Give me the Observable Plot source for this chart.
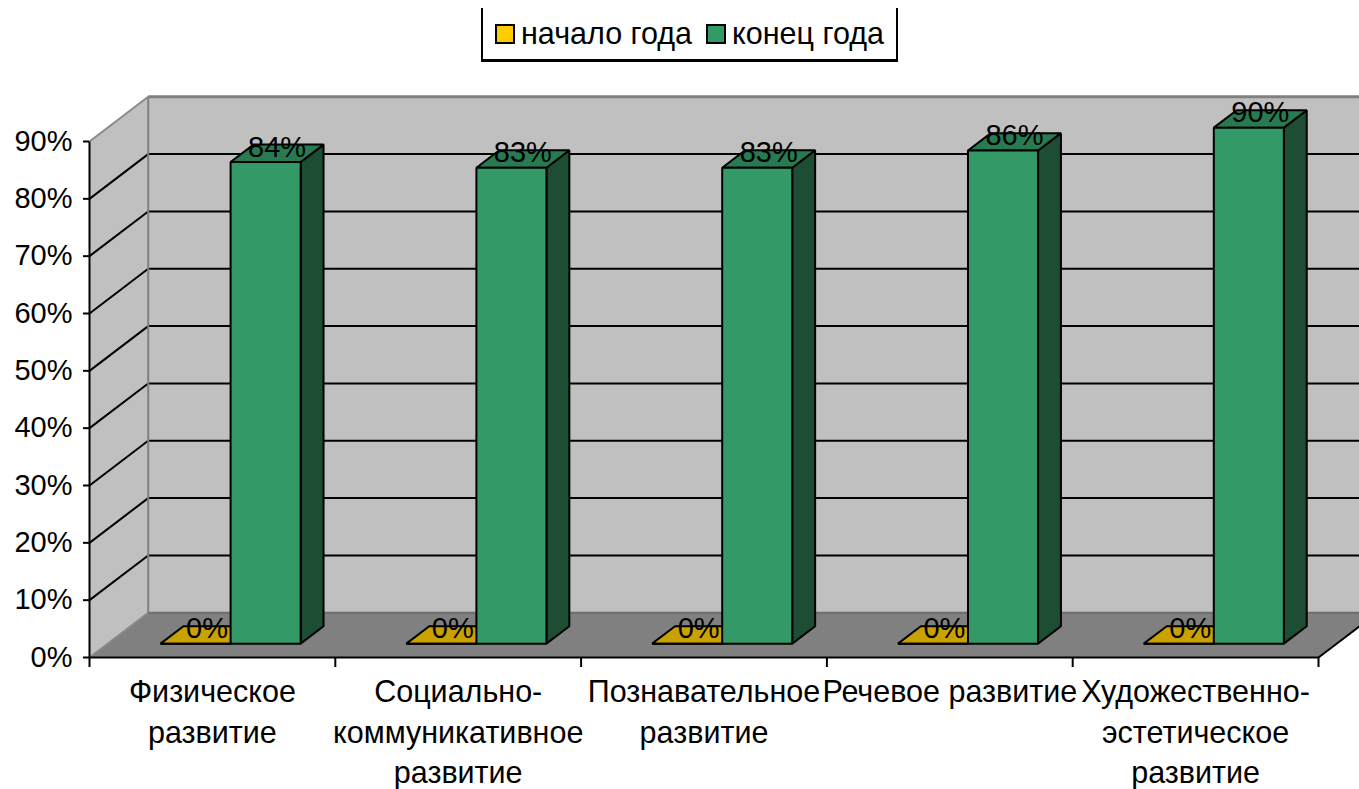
<!DOCTYPE html>
<html>
<head>
<meta charset="utf-8">
<script src="https://cdn.jsdelivr.net/npm/d3@7"></script>
<script src="https://cdn.jsdelivr.net/npm/@observablehq/plot@0.6"></script>
<style>
  html, body { margin: 0; padding: 0; background: #fff; width: 1359px; height: 789px; overflow: hidden; }
  body { position: relative; font-family: "Liberation Sans", Arial, sans-serif; }
  #legend { position: absolute; left: 481px; top: 8px; width: 413px; height: 51px;
    border-left: 2px solid #000; border-right: 2px solid #000; border-bottom: 3px solid #000;
    display: flex; align-items: center; justify-content: center; font-size: 30.5px; color: #000; }
  .item { display: flex; align-items: center; margin: 0 7px; }
  .sw { width: 16px; height: 16px; border: 2px solid #000; margin-right: 6px; }
  #chart { position: absolute; left: 0; top: 70px; }
</style>
</head>
<body>
<div id="legend"></div>
<div id="chart"></div>
<script>
// ---- data ----
const categories = ["Физическое\nразвитие", "Социально-\nкоммуникативное\nразвитие", "Познавательное\nразвитие", "Речевое развитие", "Художественно-\nэстетическое\nразвитие"];
const seriesNames = ["начало года", "конец года"];
const startValues = [0, 0, 0, 0, 0];
const endValues = [84, 83, 83, 86, 90];
const yTicks = [0, 10, 20, 30, 40, 50, 60, 70, 80, 90];
const yTickLabels = ["0%", "10%", "20%", "30%", "40%", "50%", "60%", "70%", "80%", "90%"];

// ---- styling / 3D geometry ----
const colors = {
  start: {front: "#FFCC00", top: "#C9A100", side: "#7F6600"},
  end: {front: "#339966", top: "#287A50", side: "#1D4D33"}
};
const DX = 0.2388;   // depth offset in category units
const DY = 7.8;      // depth offset in percent units
const D0 = 0.31, D1 = 0.70, W = 0.285;
const n = categories.length;
const yMax = yTicks[yTicks.length - 1];

// legend
const legend = document.getElementById("legend");
[[seriesNames[0], colors.start.front], [seriesNames[1], colors.end.front]].forEach(([name, c]) => {
  const it = document.createElement("div"); it.className = "item";
  const sw = document.createElement("div"); sw.className = "sw"; sw.style.background = c;
  const t = document.createElement("span"); t.textContent = name;
  it.appendChild(sw); it.appendChild(t); legend.appendChild(it);
});

const P = (x, y, d, id) => ({id, x: x + d * DX, y: y + d * DY});

function barFaces(values, offset, key) {
  const front = [], top = [], side = [], labels = [];
  values.forEach((v, i) => {
    const xl = i + 0.5 + offset, xr = xl + W;
    front.push(P(xl, 0, D0, key + i), P(xr, 0, D0, key + i), P(xr, v, D0, key + i), P(xl, v, D0, key + i));
    top.push(P(xl, v, D0, key + i), P(xr, v, D0, key + i), P(xr, v, D1, key + i), P(xl, v, D1, key + i));
    side.push(P(xr, 0, D0, key + i), P(xr, 0, D1, key + i), P(xr, v, D1, key + i), P(xr, v, D0, key + i));
    const dm = (D0 + D1) / 2;
    labels.push({x: (xl + xr) / 2 + dm * DX, y: v + dm * DY, text: v + "%"});
  });
  return {front, top, side, labels};
}
const sBars = barFaces(startValues, -W, "s");
const eBars = barFaces(endValues, 0, "e");

const poly = (data, fill, extra = {}) => Plot.line(data, {x: "x", y: "y", z: "id", curve: "linear-closed", fill, stroke: "#000", strokeWidth: 2, strokeLinejoin: "miter", ...extra});

const leftWall = [P(0, 0, 0, "lw"), P(0, yMax, 0, "lw"), P(0, yMax, 1, "lw"), P(0, 0, 1, "lw")];
const backWall = [P(0, 0, 1, "bw"), P(0, yMax, 1, "bw"), P(n, yMax, 1, "bw"), P(n, 0, 1, "bw")];
const floor = [P(0, 0, 0, "fl"), P(n, 0, 0, "fl"), P(n, 0, 1, "fl"), P(0, 0, 1, "fl")];
const innerTicks = yTicks.filter(t => t > 0 && t < yMax);

const fontFamily = "Liberation Sans, Arial, sans-serif";

const chart = Plot.plot({
  width: 1359,
  height: 719,
  marginLeft: 89,
  marginRight: 41,
  marginTop: 71,
  marginBottom: 132,
  x: {type: "linear", domain: [0, n], axis: null},
  y: {type: "linear", domain: [0, yMax], axis: null},
  style: {fontFamily, background: "#fff", overflow: "hidden"},
  marks: [
    poly(leftWall, "#C0C0C0", {stroke: "none"}),
    poly(backWall, "#C0C0C0", {stroke: "none"}),
    poly(floor, "#808080", {stroke: "none"}),
    // back wall grid
    Plot.link(innerTicks, {x1: () => DX, x2: () => n + DX, y1: d => d + DY, y2: d => d + DY, stroke: "#000", strokeWidth: 2}),
    Plot.link([yMax], {x1: () => DX, x2: () => n + DX, y1: d => d + DY, y2: d => d + DY, stroke: "#808080", strokeWidth: 3}),
    // side wall diagonals
    Plot.link(innerTicks, {x1: () => 0, y1: d => d, x2: () => DX, y2: d => d + DY, stroke: "#000", strokeWidth: 2}),
    Plot.link([0, yMax], {x1: () => 0, y1: d => d, x2: () => DX, y2: d => d + DY, stroke: "#8a8a8a", strokeWidth: 2}),
    // back wall left edge & floor back edge
    Plot.link([0], {x1: () => DX, y1: () => DY, x2: () => DX, y2: () => yMax + DY, stroke: "#808080", strokeWidth: 2}),
    Plot.link([0], {x1: () => DX, y1: () => DY, x2: () => n + DX, y2: () => DY, stroke: "#6e6e6e", strokeWidth: 2}),
    // floor right edge
    Plot.link([0], {x1: () => n, y1: () => 0, x2: () => n + DX, y2: () => DY, stroke: "#000", strokeWidth: 2}),
    // bars: start series
    poly(sBars.top, colors.start.top),
    poly(sBars.side, colors.start.side),
    poly(sBars.front, colors.start.front),
    // bars: end series
    poly(eBars.side, colors.end.side),
    poly(eBars.top, colors.end.top),
    poly(eBars.front, colors.end.front),
    // axes
    Plot.link([0], {x1: () => 0, x2: () => 0, y1: () => 0, y2: () => yMax, stroke: "#000", strokeWidth: 2}),
    Plot.link([0], {x1: () => 0, x2: () => n, y1: () => 0, y2: () => 0, stroke: "#000", strokeWidth: 2}),
    Plot.axisY(yTicks, {tickSize: 6, tickPadding: 11, tickFormat: d => yTickLabels[yTicks.indexOf(d)], fontSize: 29, stroke: "#000", strokeWidth: 2, fill: "#000", label: null}),
    Plot.axisX(d3.range(n + 1), {tickSize: 10, tickFormat: () => "", stroke: "#000", strokeWidth: 2, label: null}),
    Plot.text(categories, {x: (d, i) => i + 0.5, y: () => 0, text: d => d, lineAnchor: "top", dy: 16, lineHeight: 1.33, fontSize: 30.5, fill: "#000"}),
    // value labels
    Plot.text(sBars.labels, {x: "x", y: "y", text: "text", dy: -6, fontSize: 29, fill: "#000"}),
    Plot.text(eBars.labels, {x: "x", y: "y", text: "text", dy: -6, fontSize: 29, fill: "#000"})
  ]
});
document.getElementById("chart").appendChild(chart);
</script>
</body>
</html>
